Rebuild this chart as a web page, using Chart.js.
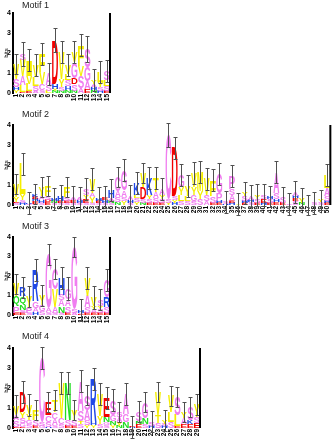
<!DOCTYPE html>
<html><head><meta charset="utf-8">
<script src="https://cdn.jsdelivr.net/npm/chart.js@4.4.1/dist/chart.umd.min.js"></script>
<style>
html,body{margin:0;padding:0;background:#fff;}
#wrap{position:relative;width:336px;height:440px;overflow:hidden;background:#fff;}
canvas{position:absolute;left:0;top:0;}
</style></head><body>
<div id="wrap">
<canvas id="c1" width="336" height="440"></canvas>
<canvas id="c2" width="336" height="440"></canvas>
<canvas id="c3" width="336" height="440"></canvas>
<canvas id="c4" width="336" height="440"></canvas>
</div>
<script>
// ---------- data ----------
const motifTitles = ["Motif 1", "Motif 2", "Motif 3", "Motif 4"];

const motif1Positions = ["1","2","3","4","5","6","7","8","9","10","11","12","13","14","15"];
const motif1Stacks = ["YHSV","ELAVS","ELVI","ASLV","SCVF","LSA","NYHD","NSYV","NHSLV","NSDGV","ASVF","EAGS","NHAY","HSYL","ESLS"];
const motif1Bits = [[0.15,0.15,0.4,0.75],[0.05,0.35,0.45,0.8,0.3],[0.1,0.35,0.4,0.8],[0.1,0.25,0.45,0.6],[0.15,0.3,0.6,0.9],
  [0.1,0.3,0.55],[0.1,0.1,0.25,2.2],[0.1,0.2,0.4,1.35],[0.15,0.2,0.3,0.3,0.45],[0.1,0.35,0.3,0.8,0.5],
  [0.25,0.6,0.5,1.05],[0.2,0.4,0.7,0.9],[0.15,0.15,0.15,0.2],[0.1,0.2,0.25,0.5],[0.1,0.25,0.3,0.45]];
const motif1Err = [0.52,0.6,0.55,0.55,0.55,0.55,0.58,0.55,0.55,0.55,0.55,0.65,0.55,0.55,0.55];

const motif2Positions = ["1","2","3","4","5","6","7","8","9","10","11","12","13","14","15","16","17","18","19","20","21","22","23","24","25",
  "26","27","28","29","30","31","32","33","34","35","36","37","38","39","40","41","42","43","44","45","46","47","48","49","50"];
const motif2Stacks = ["SEYV","HSYL","SH","SEHEK","SHAY","EDSF","SNH","SEH","SESF","SEA","SHA","SEYS","SYAV","SEH","SHE","SNAH","NSAC","YSAG","SHA","YSLK",
  "NSDV","ESYK","ESAT","ESYA","YSC","HYSD","SLYG","SLY","SGYV","SYM","ASV","ESF","EHPG","HS","HEASP","Y","EHSY","SHA","ESY","HES",
  "ESH","EHSA","ES","S","SEHA","NY","E","S","SY","EHSAL"];
const motif2Bits = [[0.1,0.05,0.25,0.65],[0.1,0.15,0.3,1.5],[0.06,0.06],[0.05,0.15,0.1,0.1,0.15],[0.1,0.15,0.2,0.47],
  [0.15,0.1,0.2,0.5],[0.1,0.1,0.1],[0.1,0.1,0.25],[0.1,0.1,0.2,0.5],[0.1,0.15,0.13],
  [0.1,0.15,0.1],[0.1,0.2,0.2,0.3],[0.1,0.3,0.2,0.7],[0.1,0.1,0.15],[0.1,0.15,0.13],
  [0.1,0.1,0.15,0.4],[0.15,0.25,0.3,0.7],[0.2,0.2,0.35,1.0],[0.1,0.15,0.2],[0.15,0.2,0.15,0.6],
  [0.1,0.2,0.6,0.7],[0.1,0.2,0.2,0.85],[0.1,0.25,0.3,0.7],[0.1,0.2,0.2,0.3],[0.1,0.2,3.2],
  [0.1,0.15,0.2,2.4],[0.2,0.3,0.4,0.6],[0.2,0.25,0.5],[0.2,0.3,0.4,0.7],[0.3,0.4,0.95],
  [0.2,0.3,0.8],[0.1,0.35,0.8],[0.1,0.1,0.4,0.95],[0.05,0.1],[0.1,0.1,0.3,0.3,0.65],
  [0.05],[0.1,0.1,0.25,0.17],[0.15,0.1,0.2],[0.1,0.2,0.2],[0.1,0.2,0.2],
  [0.1,0.2,0.12],[0.15,0.15,0.3,1.05],[0.1,0.3],[0.05],[0.2,0.15,0.1,0.2],
  [0.1,0.25],[0.02],[0.12],[0.15,0.1],[0.1,0.1,0.25,0.4,0.65]];
const motif2Err = [0.52,0.57,0.55,0.5,0.5,0.52,0.53,0.55,0.52,0.55,0.53,0.53,0.53,0.53,0.55,0.55,0.52,0.53,0.55,0.55,
  0.52,0.53,0.53,0.53,0.58,0.53,0.53,0.55,0.55,0.55,0.53,0.53,0.53,0.55,0.55,0.53,0.55,0.55,0.53,0.53,
  0.53,0.55,0.52,0.53,0.55,0.52,0.5,0.55,0.5,0.53];

const motif3Positions = ["1","2","3","4","5","6","7","8","9","10","11","12","13","14","15"];
const motif3Stacks = ["EPQV","ESNQR","SPY","HAGR","SGY","SAG","SAVC","SNASH","ESAG","ASG","EAH","ESAV","EAYV","ESYS","ESRG"];
const motif3Bits = [[0.1,0.35,0.5,0.65],[0.1,0.15,0.25,0.45,0.45],[0.1,0.25,0.6],[0.15,0.2,0.35,1.6],[0.2,0.3,0.5],
  [0.15,0.2,2.75],[0.1,0.3,0.9,1.05],[0.1,0.35,0.3,0.3,0.85],[0.1,0.35,0.35,0.55],[0.1,0.2,3.2],
  [0.05,0.05,0.15],[0.1,0.3,0.6,0.9],[0.1,0.2,0.15,0.45],[0.1,0.2,0.15,0.35],[0.1,0.3,0.5,0.9]];
const motif3Err = [0.5,0.55,0.55,0.55,0.55,0.55,0.5,0.55,0.58,0.5,0.58,0.55,0.58,0.55,0.55];

const motif4Positions = ["1","2","3","4","5","6","7","8","9","10","11","12","13","14","15","16","17","18","19","20",
  "21","22","23","24","25","26","27","28","29"];
const motif4Stacks = ["ESAV","EGSYD","SGYV","ESF","GSC","HSCE","SACT","SCV","ESN","ESY","STSA","YSAS","YHR","SYV","SGNE",
  "YNGS","NYAS","NGA","HE","ENS","SNG","HS","STV","HSY","SLV","ELS","EAY","EKS","ESY"];
const motif4Bits = [[0.05,0.35,0.25,0.45],[0.05,0.2,0.25,0.3,1.0],[0.2,0.2,0.3,0.45],[0.1,0.3,0.5],[0.1,0.2,3.2],
  [0.05,0.25,0.35,0.65],[0.15,0.3,0.35,0.6],[0.2,0.3,1.75],[0.1,0.3,1.85],[0.1,0.3,0.5],
  [0.2,0.15,0.5,1.5],[0.15,0.25,0.5,0.75],[0.15,0.2,2.1],[0.2,0.4,1.1],[0.15,0.15,0.25,0.95],
  [0.15,0.2,0.3,0.75],[0.1,0.2,0.25,0.25],[0.3,0.4,1.0],[0.04,0.03],[0.2,0.15,0.47],
  [0.2,0.3,0.8],[0.12,0.2],[0.25,0.4,1.15],[0.1,0.1,0.17],[0.3,0.5,0.8],
  [0.1,0.55,0.9],[0.2,0.3,0.3],[0.2,0.2,0.65],[0.25,0.3,0.62]];
const motif4Err = [0.56,0.53,0.56,0.5,0.55,0.52,0.5,0.53,0.53,0.52,0.55,0.52,0.55,0.55,0.53,
  0.53,0.52,0.53,0.55,0.53,0.52,0.53,0.52,0.53,0.52,0.52,0.52,0.52,0.53];

// ---------- styling ----------
const LETTER_COLORS = {
  V:'#f5ee00', L:'#f5ee00', I:'#f5ee00', F:'#f5ee00', Y:'#f5ee00', M:'#f5ee00', W:'#f5ee00', T:'#f5ee00',
  G:'#f07ef0', S:'#f07ef0', C:'#f07ef0', A:'#f07ef0', P:'#f07ef0',
  D:'#f20000', E:'#f20000',
  K:'#1f48e6', R:'#1f48e6', H:'#1f48e6',
  N:'#22dd22', Q:'#22dd22'
};
const FONT = '"Liberation Sans", Arial, Helvetica, sans-serif';

function drawGlyph(ctx, ch, color, cx, top, bottom, w) {
  ctx.save();
  ctx.font = 'bold 100px ' + FONT;
  ctx.textAlign = 'left';
  ctx.textBaseline = 'alphabetic';
  const m = ctx.measureText(ch);
  const gw = m.actualBoundingBoxLeft + m.actualBoundingBoxRight;
  const gh = m.actualBoundingBoxAscent + m.actualBoundingBoxDescent;
  ctx.translate(cx - w / 2, top);
  ctx.scale(w / gw, (bottom - top) / gh);
  ctx.fillStyle = color;
  ctx.fillText(ch, m.actualBoundingBoxLeft, m.actualBoundingBoxAscent);
  ctx.restore();
}

const logoPlugin = {
  id: 'logo',
  afterDatasetsDraw(chart) {
    const ctx = chart.ctx;
    chart.data.datasets.forEach((ds, k) => {
      const meta = chart.getDatasetMeta(k);
      meta.data.forEach((el, j) => {
        const ch = ds.letters[j];
        if (!ch) return;
        const p = el.getProps(['x', 'y', 'base', 'width'], true);
        if (p.base - p.y < 0.3) return;
        drawGlyph(ctx, ch, LETTER_COLORS[ch], p.x, p.y, p.base, p.width * 0.92);
      });
    });
  },
  afterDraw(chart, args, opts) {
    const ctx = chart.ctx;
    const xs = chart.scales.x, ys = chart.scales.y;
    ctx.save();
    ctx.strokeStyle = '#505050';
    ctx.lineWidth = 1;
    const n = chart.data.labels.length;
    for (let j = 0; j < n; j++) {
      let total = 0;
      chart.data.datasets.forEach(ds => { total += ds.data[j]; });
      const e = opts.errs[j];
      const x = Math.round(xs.getPixelForValue(j)) + 0.5;
      const yt = Math.round(ys.getPixelForValue(total + e)) + 0.5;
      const yb = Math.round(ys.getPixelForValue(total - e)) + 0.5;
      ctx.beginPath();
      ctx.moveTo(x, yt); ctx.lineTo(x, yb);
      ctx.moveTo(x - 2, yt); ctx.lineTo(x + 2, yt);
      ctx.moveTo(x - 2, yb); ctx.lineTo(x + 2, yb);
      ctx.stroke();
    }
    ctx.strokeStyle = '#000';
    ctx.lineWidth = 2;
    ctx.beginPath();
    ctx.moveTo(chart.chartArea.right, ys.getPixelForValue(4));
    ctx.lineTo(chart.chartArea.right, ys.getPixelForValue(0));
    ctx.stroke();
    ctx.fillStyle = '#222';
    ctx.font = '9px ' + FONT;
    ctx.textAlign = 'left';
    ctx.textBaseline = 'middle';
    ctx.fillText(opts.title, chart.chartArea.left + 9, chart.chartArea.top - opts.titleGap);
    ctx.restore();
  }
};

function makeLogo(id, title, positions, stacks, bits, errs, area) {
  let nLayers = 0;
  stacks.forEach(s => { nLayers = Math.max(nLayers, s.length); });
  const datasets = [];
  for (let k = 0; k < nLayers; k++) {
    datasets.push({
      data: bits.map(b => (b[k] !== undefined ? b[k] : 0)),
      letters: stacks.map(s => s[k] || ''),
      backgroundColor: 'rgba(0,0,0,0)',
      borderWidth: 0,
      categoryPercentage: 1,
      barPercentage: 1
    });
  }
  return new Chart(document.getElementById(id), {
    type: 'bar',
    data: { labels: positions, datasets: datasets },
    options: {
      responsive: false, animation: false, devicePixelRatio: 1, events: [],
      layout: { padding: { top: area.top, right: 336 - area.right, bottom: 440 - area.bottom - 14, left: 0 } },
      plugins: {
        legend: { display: false }, tooltip: { enabled: false }, title: { display: false },
        logo: { errs: errs, title: title, titleGap: area.titleGap }
      },
      scales: {
        x: {
          stacked: true,
          grid: { display: false, drawTicks: false },
          border: { display: false },
          ticks: { autoSkip: false, minRotation: 90, maxRotation: 90, padding: 1, color: '#000',
                   font: { family: FONT, size: 6.5, weight: 'bold' } },
          afterFit: s => { s.height = 14; }
        },
        y: {
          stacked: true, min: 0, max: 4,
          grid: { display: false, drawTicks: false },
          border: { display: true, color: '#000', width: 2 },
          ticks: { stepSize: 1, padding: 2, color: '#000', font: { family: FONT, size: 7, weight: 'bold' } },
          title: { display: true, text: 'bits', color: '#000', font: { family: FONT, size: 6 }, padding: { top: 3, bottom: 0 } },
          afterFit: s => { s.width = 13; }
        }
      }
    },
    plugins: [logoPlugin]
  });
}

makeLogo('c1', motifTitles[0], motif1Positions, motif1Stacks, motif1Bits, motif1Err, { top: 13, bottom: 93, right: 110, titleGap: 7 });
makeLogo('c2', motifTitles[1], motif2Positions, motif2Stacks, motif2Bits, motif2Err, { top: 125, bottom: 205, right: 333, titleGap: 10 });
makeLogo('c3', motifTitles[2], motif3Positions, motif3Stacks, motif3Bits, motif3Err, { top: 237, bottom: 315, right: 110, titleGap: 10 });
makeLogo('c4', motifTitles[3], motif4Positions, motif4Stacks, motif4Bits, motif4Err, { top: 348, bottom: 428, right: 200, titleGap: 11 });
</script>
</body></html>
